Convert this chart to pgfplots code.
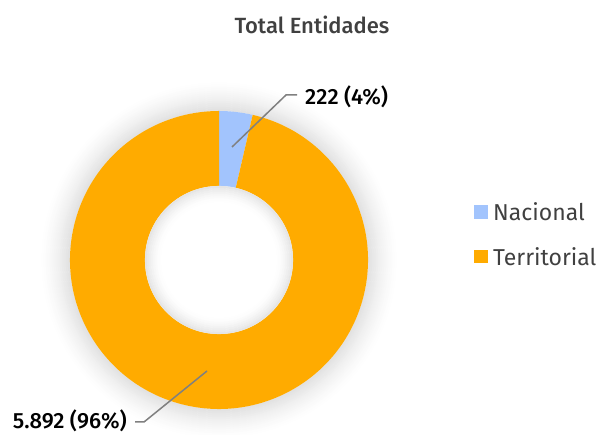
\documentclass[border=0pt]{standalone}
\usepackage{pgfplots}
\pgfplotsset{compat=1.18}
\usepackage{pgfplotstable}
\usepackage{fontspec}
\setmainfont{Fira Sans}
\newfontfamily\medfont{Fira Sans}[UprightFont={* Medium}]

\definecolor{nacional}{HTML}{A2C4FD}
\definecolor{territorial}{HTML}{FFAB00}
\definecolor{txtgray}{HTML}{404040}
\definecolor{linegray}{HTML}{808080}

\pgfplotstableread{
label value
Nacional 222
Territorial 5892
}\entidades

\pgfplotstablegetelem{0}{value}\of\entidades \let\vNac\pgfplotsretval
\pgfplotstablegetelem{1}{value}\of\entidades \let\vTer\pgfplotsretval
\pgfmathsetmacro\total{\vNac+\vTer}
\pgfmathsetmacro\aNac{90-360*(\vNac/\total)}

\begin{document}
\begin{tikzpicture}
\begin{axis}[
    name=ax,
    scale only axis,
    width=604pt, height=435pt,
    xmin=0, xmax=604, ymin=0, ymax=435,
    hide axis, clip=false,
]
  % soft outer shadow
  \foreach \r/\g in {178/0.1,176/0.4,174/0.8,172/1.4,170/2,168/2.7,166/3.4,164/4.2,162/5.1,160/6,158/7,156/8.1,154/9.1,152/10.2,150/11.4}{
    \edef\tmp{\noexpand\draw[color=black!\g, line width=2.3pt] (axis cs:219,175) circle[radius=\r pt];}\tmp
  }
  % ring
  \fill[nacional] (axis cs:219,175) -- +(90:149pt) arc[start angle=90, end angle=\aNac, radius=149pt] -- cycle;
  \fill[territorial] (axis cs:219,175) -- +(\aNac:149pt) arc[start angle=\aNac, end angle=-270, radius=149pt] -- cycle;
  \fill[white] (axis cs:219,175) circle[radius=74pt];
  % inner shadow
  \foreach \r/\g in {59/0.2,61/0.9,63/1.9,65/3.2,67/4.6,69/6.3,71/8,73/10}{
    \edef\tmp{\noexpand\draw[color=black!\g, line width=2.1pt] (axis cs:219,175) circle[radius=\r pt];}\tmp
  }
  \fill[white] (axis cs:219,175) circle[radius=58pt];

  % data labels
  \draw[linegray, line width=1.5pt] (axis cs:232,288) -- (axis cs:286,340) -- (axis cs:297,340);
  \node[anchor=west, inner sep=0pt, font=\medfont\fontsize{22}{26}\selectfont] at (axis cs:305,338) {222 (4\%)};
  \draw[linegray, line width=1.5pt] (axis cs:207,64) -- (axis cs:144,13) -- (axis cs:135,13);
  \node[anchor=east, inner sep=0pt, font=\medfont\fontsize{22}{26}\selectfont] at (axis cs:127,14) {5.892 (96\%)};

  % title
  \node[txtgray, inner sep=0pt, font=\medfont\fontsize{22}{26}\selectfont] at (axis cs:312,410) {Total Entidades};

  % legend
  \fill[nacional] (axis cs:474,216) rectangle (axis cs:488,230);
  \node[txtgray, anchor=west, inner sep=0pt, font=\fontsize{23}{27}\selectfont] at (axis cs:493,223) {Nacional};
  \fill[territorial] (axis cs:474,172) rectangle (axis cs:488,185);
  \node[txtgray, anchor=west, inner sep=0pt, font=\fontsize{23}{27}\selectfont] at (axis cs:493,178) {Territorial};
\end{axis}
\pgfresetboundingbox
\path[use as bounding box] (ax.south west) rectangle (ax.north east);
\end{tikzpicture}
\end{document}
